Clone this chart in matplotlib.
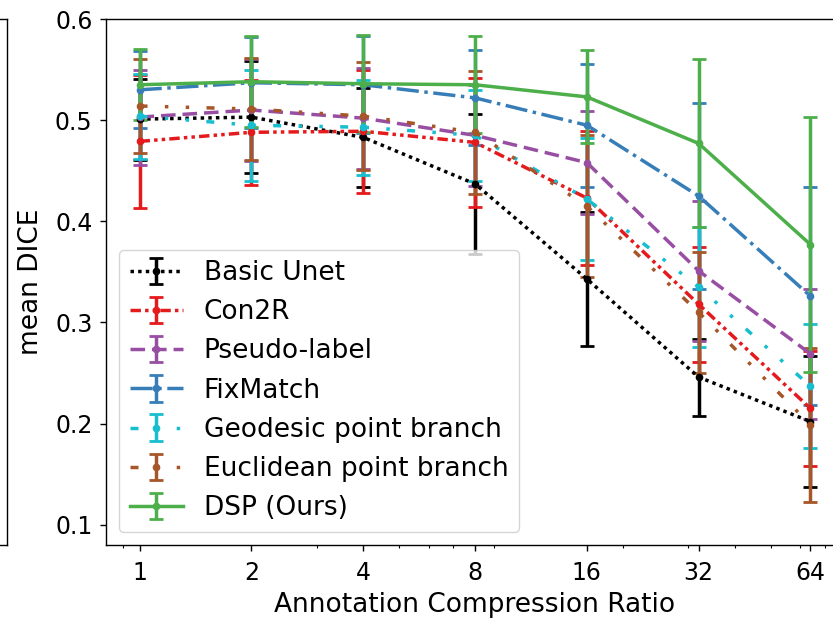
import matplotlib
matplotlib.use("Agg")
import matplotlib.pyplot as plt
from matplotlib.ticker import NullFormatter

# compression ratios (log x axis)
ratios = [1, 2, 4, 8, 16, 32, 64]
ratio_labels = ['1', '2', '4', '8', '16', '32', '64']

# mean DICE and std per method
unet_mean = [0.501, 0.503, 0.483, 0.437, 0.343, 0.246, 0.202]
unet_std = [0.040, 0.055, 0.049, 0.069, 0.066, 0.038, 0.065]

con2r_mean = [0.479, 0.488, 0.489, 0.478, 0.423, 0.318, 0.215]
con2r_std = [0.066, 0.052, 0.061, 0.064, 0.066, 0.057, 0.057]

pseudo_mean = [0.503, 0.510, 0.502, 0.485, 0.458, 0.351, 0.269]
pseudo_std = [0.047, 0.050, 0.050, 0.050, 0.051, 0.069, 0.064]

fixmatch_mean = [0.530, 0.537, 0.535, 0.522, 0.495, 0.425, 0.326]
fixmatch_std = [0.038, 0.045, 0.048, 0.047, 0.061, 0.092, 0.108]

geodesic_mean = [0.504, 0.495, 0.493, 0.485, 0.422, 0.335, 0.237]
geodesic_std = [0.042, 0.055, 0.047, 0.045, 0.060, 0.059, 0.061]

euclid_mean = [0.514, 0.511, 0.504, 0.488, 0.415, 0.310, 0.199]
euclid_std = [0.046, 0.050, 0.053, 0.061, 0.070, 0.060, 0.076]

dsp_mean = [0.535, 0.538, 0.536, 0.535, 0.523, 0.477, 0.377]
dsp_std = [0.035, 0.045, 0.048, 0.048, 0.046, 0.083, 0.126]

methods = [
    ('Basic Unet', unet_mean, unet_std, 'k', (0, (1, 1.2))),
    ('Con2R', con2r_mean, con2r_std, '#e41a1c', (0, (3, 1.2, 1, 1.2, 1, 1.2))),
    ('Pseudo-label', pseudo_mean, pseudo_std, '#984ea3', (0, (4.2, 2))),
    ('FixMatch', fixmatch_mean, fixmatch_std, '#377eb8', '-.'),
    ('Geodesic point branch', geodesic_mean, geodesic_std, '#17becf', (0, (2.3, 5, 1, 5, 1, 5))),
    ('Euclidean point branch', euclid_mean, euclid_std, '#a65628', (0, (2.3, 5, 1, 5, 1, 5))),
    ('DSP (Ours)', dsp_mean, dsp_std, '#4daf4a', '-'),
]

plt.rcParams['axes.linewidth'] = 1.0
plt.rcParams['xtick.major.size'] = 4.3
plt.rcParams['ytick.major.size'] = 4.3
plt.rcParams['xtick.minor.size'] = 2.3
plt.rcParams['xtick.major.width'] = 1.0
plt.rcParams['ytick.major.width'] = 1.0
plt.rcParams['xtick.minor.width'] = 0.8
plt.rcParams['xtick.major.pad'] = 7.5
plt.rcParams['ytick.major.pad'] = 5.5

fig = plt.figure(figsize=(8.33, 6.18), dpi=100)
ax = fig.add_axes([106 / 833, 73 / 618, 738 / 833, 526 / 618])

# edge of the neighbouring panel on the left
other = fig.add_axes([-0.5, 73 / 618, 0.5 + 7 / 833, 526 / 618])
other.set_xticks([])
other.set_yticks([])

for name, mean, std, color, ls in methods:
    ax.errorbar(ratios, mean, yerr=std, label=name, color=color, linestyle=ls,
                linewidth=2.5, marker='o', markersize=4.5,
                capsize=5, capthick=2)

ax.set_xscale('log')
ax.set_xticks(ratios, labels=ratio_labels)
ax.xaxis.set_minor_formatter(NullFormatter())
ax.set_ylim(0.08, 0.6)
ax.set_yticks([0.1, 0.2, 0.3, 0.4, 0.5, 0.6])
ax.tick_params(labelsize=17)
ax.set_xlabel('Annotation Compression Ratio', fontsize=19, labelpad=4.5)
ax.set_ylabel('mean DICE', fontsize=19, labelpad=7.5)
ax.legend(loc='lower left', fontsize=19)

fig.savefig('out.png', dpi=100)
